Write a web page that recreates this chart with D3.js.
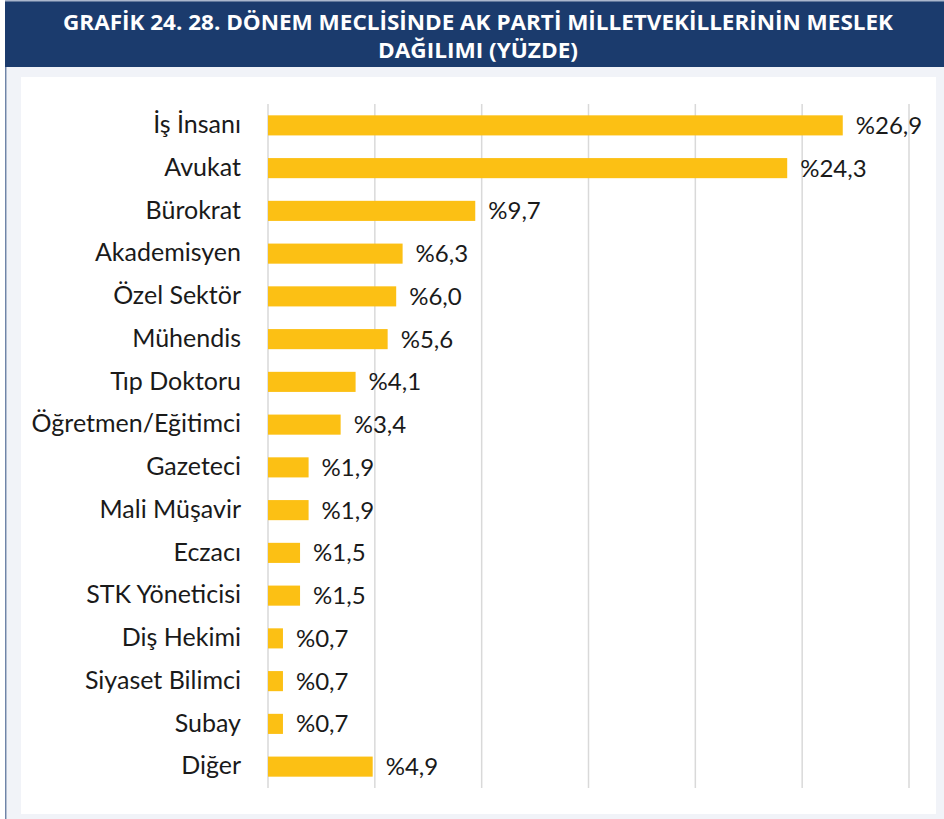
<!DOCTYPE html>
<html>
<head>
<meta charset="utf-8">
<script src="https://cdn.jsdelivr.net/npm/d3@7"></script>
<style>
  body { margin: 0; background: #fff; }
  svg { display: block; }
  .lbl { font-family: Lato, "Liberation Sans", sans-serif; font-size: 25px; fill: #1a1a1a; }
  .val { font-family: Lato, "Liberation Sans", sans-serif; font-size: 24px; fill: #1a1a1a; }
  .title { font-family: "Open Sans", "Liberation Sans", sans-serif; font-weight: bold; font-size: 21px; fill: #fff; }
</style>
</head>
<body>
<div id="chart"></div>
<script>
const width = 944;
const height = 819;

// data
const categories = ["İş İnsanı", "Avukat", "Bürokrat", "Akademisyen", "Özel Sektör", "Mühendis",
  "Tıp Doktoru", "Öğretmen/Eğitimci", "Gazeteci", "Mali Müşavir", "Eczacı", "STK Yöneticisi",
  "Diş Hekimi", "Siyaset Bilimci", "Subay", "Diğer"];
const values = [26.9, 24.3, 9.7, 6.3, 6.0, 5.6, 4.1, 3.4, 1.9, 1.9, 1.5, 1.5, 0.7, 0.7, 0.7, 4.9];
const xTicks = [0, 5, 10, 15, 20, 25, 30];
const titleLines = ["GRAFİK 24. 28. DÖNEM MECLİSİNDE AK PARTİ MİLLETVEKİLLERİNİN MESLEK", "DAĞILIMI (YÜZDE)"];

const data = categories.map((c, i) => ({ name: c, value: values[i] }));

const svg = d3.select('#chart').append('svg')
    .attr('width', width)
    .attr('height', height);

// frame
svg.append('rect').attr('x', 7).attr('y', 67).attr('width', width - 7).attr('height', height - 67).attr('fill', '#f1f3f8');
svg.append('rect').attr('x', 5).attr('y', 67).attr('width', 1.5).attr('height', height - 67).attr('fill', '#6f84a8');
svg.append('rect').attr('x', 21).attr('y', 77).attr('width', 915).attr('height', 737).attr('fill', '#fff');

// title bar
svg.append('rect').attr('x', 5).attr('y', 0).attr('width', width - 5).attr('height', 67).attr('fill', '#1b3b6d');
svg.append('rect').attr('x', 5).attr('y', 0).attr('width', width - 5).attr('height', 1.5).attr('fill', '#aab6cc');

svg.append('text').attr('class', 'title')
    .attr('x', 478).attr('y', 30)
    .attr('text-anchor', 'middle')
    .attr('textLength', 830).attr('lengthAdjust', 'spacingAndGlyphs')
    .text(titleLines[0]);
svg.append('text').attr('class', 'title')
    .attr('x', 478).attr('y', 58)
    .attr('text-anchor', 'middle')
    .attr('textLength', 200).attr('lengthAdjust', 'spacingAndGlyphs')
    .text(titleLines[1]);

const x = d3.scaleLinear().domain([0, 30]).range([268, 909]);
const y = d3.scaleBand().domain(categories).range([104, 788]).paddingInner(0.53).paddingOuter(0.265);

// vertical gridlines
svg.append('g').selectAll('line')
  .data(xTicks)
  .join('line')
    .attr('x1', d => x(d)).attr('x2', d => x(d))
    .attr('y1', 104).attr('y2', 788)
    .attr('stroke', '#d9d9d9')
    .attr('stroke-width', 1.5);

// bars
svg.append('g').selectAll('rect')
  .data(data)
  .join('rect')
    .attr('x', x(0))
    .attr('y', d => y(d.name))
    .attr('width', d => x(d.value) - x(0))
    .attr('height', y.bandwidth())
    .attr('fill', '#fcc014');

// category labels
svg.append('g').selectAll('text')
  .data(data)
  .join('text')
    .attr('class', 'lbl')
    .attr('x', 241)
    .attr('y', d => y(d.name) + y.bandwidth() / 2 - 1)
    .attr('dy', '0.35em')
    .attr('text-anchor', 'end')
    .text(d => d.name);

// value labels
svg.append('g').selectAll('text')
  .data(data)
  .join('text')
    .attr('class', 'val')
    .attr('x', d => x(d.value) + 13)
    .attr('y', d => y(d.name) + y.bandwidth() / 2)
    .attr('dy', '0.35em')
    .text(d => '%' + d3.format('.1f')(d.value).replace('.', ','));
</script>
</body>
</html>
